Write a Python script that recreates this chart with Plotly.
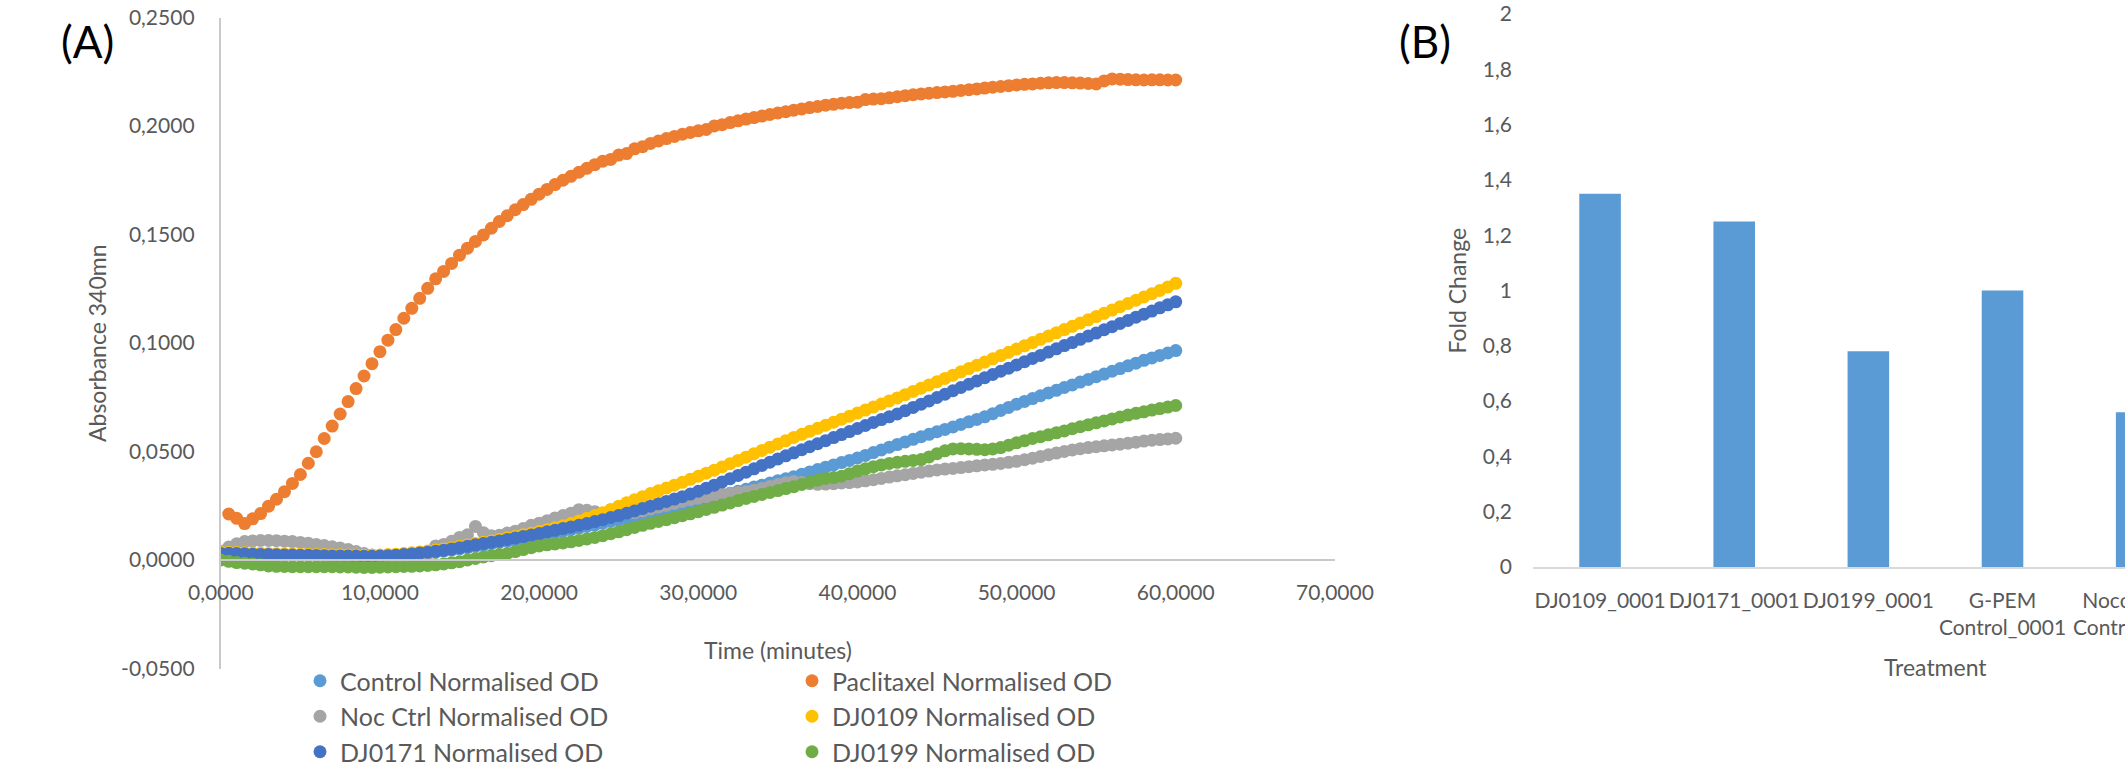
import plotly.graph_objects as go

# ---------------------------------------------------------------- data
# Read times (minutes), one reading every 30 s
TIME_MIN = [
    0.0, 0.5, 1.0, 1.5, 2.0, 2.5, 3.0, 3.5, 4.0, 4.5,
    5.0, 5.5, 6.0, 6.5, 7.0, 7.5, 8.0, 8.5, 9.0, 9.5,
    10.0, 10.5, 11.0, 11.5, 12.0, 12.5, 13.0, 13.5, 14.0, 14.5,
    15.0, 15.5, 16.0, 16.5, 17.0, 17.5, 18.0, 18.5, 19.0, 19.5,
    20.0, 20.5, 21.0, 21.5, 22.0, 22.5, 23.0, 23.5, 24.0, 24.5,
    25.0, 25.5, 26.0, 26.5, 27.0, 27.5, 28.0, 28.5, 29.0, 29.5,
    30.0, 30.5, 31.0, 31.5, 32.0, 32.5, 33.0, 33.5, 34.0, 34.5,
    35.0, 35.5, 36.0, 36.5, 37.0, 37.5, 38.0, 38.5, 39.0, 39.5,
    40.0, 40.5, 41.0, 41.5, 42.0, 42.5, 43.0, 43.5, 44.0, 44.5,
    45.0, 45.5, 46.0, 46.5, 47.0, 47.5, 48.0, 48.5, 49.0, 49.5,
    50.0, 50.5, 51.0, 51.5, 52.0, 52.5, 53.0, 53.5, 54.0, 54.5,
    55.0, 55.5, 56.0, 56.5, 57.0, 57.5, 58.0, 58.5, 59.0, 59.5,
    60.0,
]

CONTROL_OD = [
    0.0027, 0.0028, 0.0027, 0.0026, 0.0024, 0.0023, 0.0022, 0.0021, 0.0020, 0.0020,
    0.0019, 0.0019, 0.0018, 0.0017, 0.0016, 0.0016, 0.0015, 0.0015, 0.0014, 0.0014,
    0.0015, 0.0017, 0.0019, 0.0022, 0.0025, 0.0028, 0.0032, 0.0036, 0.0041, 0.0046,
    0.0051, 0.0057, 0.0063, 0.0069, 0.0075, 0.0081, 0.0087, 0.0093, 0.0099, 0.0105,
    0.0112, 0.0119, 0.0126, 0.0133, 0.0140, 0.0147, 0.0155, 0.0162, 0.0170, 0.0178,
    0.0185, 0.0193, 0.0200, 0.0209, 0.0217, 0.0226, 0.0235, 0.0244, 0.0252, 0.0261,
    0.0270, 0.0280, 0.0289, 0.0298, 0.0308, 0.0317, 0.0326, 0.0336, 0.0345, 0.0355,
    0.0365, 0.0374, 0.0384, 0.0395, 0.0406, 0.0417, 0.0428, 0.0438, 0.0449, 0.0459,
    0.0470, 0.0482, 0.0495, 0.0507, 0.0520, 0.0532, 0.0544, 0.0556, 0.0568, 0.0579,
    0.0591, 0.0602, 0.0613, 0.0625, 0.0637, 0.0648, 0.0660, 0.0674, 0.0689, 0.0703,
    0.0718, 0.0731, 0.0744, 0.0757, 0.0770, 0.0782, 0.0795, 0.0807, 0.0820, 0.0832,
    0.0845, 0.0857, 0.0870, 0.0882, 0.0895, 0.0907, 0.0920, 0.0931, 0.0943, 0.0954,
    0.0965,
]

# first reading of this well falls after t = 0
PACLITAXEL_OD = [
    None, 0.0212, 0.0192, 0.0168, 0.0190, 0.0214, 0.0248, 0.0280, 0.0315, 0.0353,
    0.0394, 0.0446, 0.0499, 0.0560, 0.0617, 0.0673, 0.0730, 0.0790, 0.0848, 0.0905,
    0.0960, 0.1013, 0.1062, 0.1114, 0.1160, 0.1206, 0.1252, 0.1296, 0.1330, 0.1367,
    0.1405, 0.1437, 0.1468, 0.1498, 0.1529, 0.1560, 0.1587, 0.1614, 0.1638, 0.1662,
    0.1686, 0.1708, 0.1730, 0.1750, 0.1768, 0.1787, 0.1805, 0.1822, 0.1838, 0.1846,
    0.1866, 0.1873, 0.1895, 0.1905, 0.1920, 0.1931, 0.1942, 0.1952, 0.1962, 0.1970,
    0.1978, 0.1984, 0.2000, 0.2006, 0.2016, 0.2024, 0.2032, 0.2039, 0.2046, 0.2053,
    0.2060, 0.2066, 0.2073, 0.2079, 0.2085, 0.2090, 0.2096, 0.2100, 0.2105, 0.2108,
    0.2110, 0.2122, 0.2124, 0.2126, 0.2130, 0.2135, 0.2140, 0.2144, 0.2148, 0.2151,
    0.2154, 0.2157, 0.2160, 0.2164, 0.2167, 0.2171, 0.2175, 0.2179, 0.2182, 0.2186,
    0.2189, 0.2192, 0.2194, 0.2197, 0.2199, 0.2200, 0.2200, 0.2199, 0.2198, 0.2196,
    0.2194, 0.2208, 0.2217, 0.2216, 0.2214, 0.2213, 0.2212, 0.2213, 0.2213, 0.2212,
    0.2212,
]

NOC_CTRL_OD = [
    0.0040, 0.0060, 0.0075, 0.0085, 0.0088, 0.0090, 0.0090, 0.0089, 0.0087, 0.0085,
    0.0081, 0.0077, 0.0072, 0.0067, 0.0061, 0.0055, 0.0048, 0.0039, 0.0030, 0.0023,
    0.0019, 0.0017, 0.0016, 0.0017, 0.0018, 0.0021, 0.0026, 0.0065, 0.0072, 0.0086,
    0.0104, 0.0116, 0.0155, 0.0126, 0.0112, 0.0114, 0.0124, 0.0133, 0.0145, 0.0160,
    0.0170, 0.0181, 0.0194, 0.0205, 0.0216, 0.0232, 0.0229, 0.0223, 0.0216, 0.0211,
    0.0212, 0.0214, 0.0218, 0.0226, 0.0235, 0.0244, 0.0252, 0.0261, 0.0270, 0.0278,
    0.0285, 0.0292, 0.0298, 0.0303, 0.0307, 0.0311, 0.0315, 0.0322, 0.0330, 0.0339,
    0.0348, 0.0356, 0.0362, 0.0357, 0.0352, 0.0349, 0.0350, 0.0352, 0.0355, 0.0357,
    0.0360, 0.0365, 0.0370, 0.0376, 0.0382, 0.0388, 0.0393, 0.0399, 0.0405, 0.0410,
    0.0415, 0.0419, 0.0422, 0.0426, 0.0430, 0.0434, 0.0438, 0.0441, 0.0445, 0.0450,
    0.0455, 0.0462, 0.0469, 0.0477, 0.0485, 0.0493, 0.0500, 0.0507, 0.0513, 0.0518,
    0.0522, 0.0526, 0.0530, 0.0534, 0.0538, 0.0543, 0.0548, 0.0552, 0.0555, 0.0558,
    0.0561,
]

DJ0109_OD = [
    0.0036, 0.0036, 0.0035, 0.0034, 0.0032, 0.0031, 0.0030, 0.0029, 0.0028, 0.0028,
    0.0027, 0.0027, 0.0026, 0.0025, 0.0024, 0.0024, 0.0023, 0.0023, 0.0022, 0.0022,
    0.0023, 0.0025, 0.0027, 0.0030, 0.0033, 0.0037, 0.0041, 0.0046, 0.0051, 0.0057,
    0.0063, 0.0069, 0.0076, 0.0082, 0.0088, 0.0095, 0.0102, 0.0108, 0.0116, 0.0123,
    0.0131, 0.0140, 0.0149, 0.0158, 0.0168, 0.0180, 0.0192, 0.0205, 0.0218, 0.0233,
    0.0248, 0.0264, 0.0278, 0.0292, 0.0306, 0.0319, 0.0332, 0.0345, 0.0358, 0.0372,
    0.0386, 0.0400, 0.0414, 0.0429, 0.0444, 0.0459, 0.0474, 0.0490, 0.0505, 0.0520,
    0.0535, 0.0550, 0.0565, 0.0579, 0.0593, 0.0607, 0.0621, 0.0635, 0.0649, 0.0663,
    0.0677, 0.0691, 0.0705, 0.0719, 0.0733, 0.0747, 0.0762, 0.0777, 0.0792, 0.0807,
    0.0822, 0.0837, 0.0852, 0.0867, 0.0882, 0.0897, 0.0912, 0.0927, 0.0942, 0.0957,
    0.0972, 0.0987, 0.1002, 0.1017, 0.1032, 0.1047, 0.1062, 0.1077, 0.1092, 0.1107,
    0.1122, 0.1137, 0.1152, 0.1167, 0.1182, 0.1197, 0.1212, 0.1227, 0.1242, 0.1258,
    0.1275,
]

DJ0171_OD = [
    0.0030, 0.0031, 0.0030, 0.0029, 0.0027, 0.0026, 0.0025, 0.0024, 0.0023, 0.0023,
    0.0022, 0.0022, 0.0021, 0.0020, 0.0019, 0.0019, 0.0018, 0.0018, 0.0017, 0.0017,
    0.0018, 0.0020, 0.0022, 0.0025, 0.0028, 0.0032, 0.0036, 0.0040, 0.0045, 0.0051,
    0.0057, 0.0063, 0.0070, 0.0076, 0.0082, 0.0088, 0.0095, 0.0101, 0.0108, 0.0115,
    0.0122, 0.0130, 0.0137, 0.0145, 0.0152, 0.0160, 0.0168, 0.0177, 0.0186, 0.0196,
    0.0205, 0.0215, 0.0226, 0.0237, 0.0248, 0.0259, 0.0270, 0.0281, 0.0292, 0.0304,
    0.0317, 0.0331, 0.0345, 0.0360, 0.0375, 0.0390, 0.0405, 0.0420, 0.0436, 0.0451,
    0.0466, 0.0480, 0.0494, 0.0508, 0.0522, 0.0536, 0.0550, 0.0564, 0.0578, 0.0592,
    0.0606, 0.0620, 0.0634, 0.0647, 0.0660, 0.0673, 0.0688, 0.0703, 0.0718, 0.0733,
    0.0749, 0.0764, 0.0780, 0.0795, 0.0810, 0.0825, 0.0840, 0.0855, 0.0870, 0.0884,
    0.0899, 0.0914, 0.0929, 0.0943, 0.0958, 0.0973, 0.0988, 0.1002, 0.1017, 0.1032,
    0.1046, 0.1061, 0.1075, 0.1090, 0.1104, 0.1119, 0.1133, 0.1147, 0.1162, 0.1176,
    0.1190,
]

DJ0199_OD = [
    0.0000, -0.0006, -0.0012, -0.0015, -0.0018, -0.0022, -0.0027, -0.0029, -0.0030, -0.0031,
    -0.0031, -0.0031, -0.0031, -0.0031, -0.0031, -0.0032, -0.0032, -0.0033, -0.0034, -0.0034,
    -0.0033, -0.0032, -0.0031, -0.0030, -0.0029, -0.0027, -0.0025, -0.0022, -0.0018, -0.0013,
    -0.0008, 0.0000, 0.0007, 0.0014, 0.0020, 0.0025, 0.0030, 0.0039, 0.0048, 0.0057,
    0.0065, 0.0070, 0.0074, 0.0079, 0.0084, 0.0090, 0.0097, 0.0104, 0.0112, 0.0121,
    0.0130, 0.0140, 0.0150, 0.0160, 0.0169, 0.0178, 0.0186, 0.0195, 0.0204, 0.0213,
    0.0223, 0.0233, 0.0243, 0.0253, 0.0263, 0.0274, 0.0284, 0.0293, 0.0302, 0.0311,
    0.0320, 0.0329, 0.0338, 0.0348, 0.0358, 0.0368, 0.0376, 0.0380, 0.0386, 0.0398,
    0.0410, 0.0420, 0.0430, 0.0438, 0.0445, 0.0450, 0.0455, 0.0459, 0.0463, 0.0475,
    0.0490, 0.0503, 0.0512, 0.0513, 0.0512, 0.0510, 0.0508, 0.0512, 0.0518, 0.0529,
    0.0540, 0.0550, 0.0560, 0.0568, 0.0577, 0.0586, 0.0595, 0.0605, 0.0614, 0.0623,
    0.0632, 0.0641, 0.0650, 0.0659, 0.0668, 0.0676, 0.0683, 0.0691, 0.0698, 0.0705,
    0.0712,
]

TIME_TICKS = [0, 10, 20, 30, 40, 50, 60, 70]
TIME_TICK_LABELS = ["0,0000", "10,0000", "20,0000", "30,0000",
                    "40,0000", "50,0000", "60,0000", "70,0000"]
OD_TICKS = [-0.05, 0.0, 0.05, 0.10, 0.15, 0.20, 0.25]
OD_TICK_LABELS = ["-0,0500", "0,0000", "0,0500", "0,1000",
                  "0,1500", "0,2000", "0,2500"]

TREATMENTS = ["DJ0109_0001", "DJ0171_0001", "DJ0199_0001",
              "G-PEM Control_0001", "Nocodazole Control_0001"]
TREATMENT_LABELS = ["DJ0109_0001", "DJ0171_0001", "DJ0199_0001",
                    "G-PEM<br>Control_0001", "Nocodazole<br>Control_0001"]
FOLD_CHANGE = [1.35, 1.25, 0.78, 1.00, 0.56]
FOLD_TICKS = [0, 0.2, 0.4, 0.6, 0.8, 1.0, 1.2, 1.4, 1.6, 1.8, 2.0]
FOLD_TICK_LABELS = ["0", "0,2", "0,4", "0,6", "0,8", "1",
                    "1,2", "1,4", "1,6", "1,8", "2"]

SERIES = [
    ("Control Normalised OD", CONTROL_OD, "#5B9BD5", "legend"),
    ("Paclitaxel Normalised OD", PACLITAXEL_OD, "#ED7D31", "legend2"),
    ("Noc Ctrl Normalised OD", NOC_CTRL_OD, "#A5A5A5", "legend"),
    ("DJ0109 Normalised OD", DJ0109_OD, "#FFC000", "legend2"),
    ("DJ0171 Normalised OD", DJ0171_OD, "#4472C4", "legend"),
    ("DJ0199 Normalised OD", DJ0199_OD, "#70AD47", "legend2"),
]
for _, values, _, _ in SERIES:
    assert len(values) == len(TIME_MIN)

# ---------------------------------------------------------------- style
W, H = 2125, 775
FONT = "Lato, 'Open Sans', sans-serif"
TEXT = "#595959"
AXIS_LINE = "#C9C9C9"

# panel A geometry (paper fractions)
A_X = [0.1039, 0.6282]
A_Y = [0.1374, 0.9774]
A_RANGE_Y = [-0.05, 0.25]
zero_pos = A_Y[0] + (0 - A_RANGE_Y[0]) / (A_RANGE_Y[1] - A_RANGE_Y[0]) * (A_Y[1] - A_Y[0])

# panel B geometry
B_X = [0.7214, 1.0]
B_Y = [0.2684, 0.9819]
B_RANGE_X = [-0.5, 3.913]


def b_paper_x(pos):
    """Paper x of a category position on the panel B axis."""
    return B_X[0] + (pos - B_RANGE_X[0]) / (B_RANGE_X[1] - B_RANGE_X[0]) * (B_X[1] - B_X[0])


fig = go.Figure()

for name, values, color, legend_id in SERIES:
    fig.add_trace(go.Scatter(
        x=TIME_MIN, y=values, name=name, mode="markers",
        marker=dict(size=13, color=color, line=dict(width=0)),
        legend=legend_id, xaxis="x", yaxis="y",
    ))

fig.add_trace(go.Bar(
    x=TREATMENTS, y=FOLD_CHANGE, width=0.31,
    marker=dict(color="#5B9BD5", line=dict(width=0)),
    showlegend=False, xaxis="x2", yaxis="y2",
))

tick_font = dict(family=FONT, size=21, color=TEXT)
title_font = dict(family=FONT, size=23, color=TEXT)
legend_font = dict(family=FONT, size=25, color=TEXT)

legend_common = dict(
    y=0, xanchor="left", yanchor="bottom",
    orientation="v", font=legend_font, bgcolor="rgba(0,0,0,0)",
    borderwidth=0, tracegroupgap=0,
)

fig.update_layout(
    width=W, height=H,
    margin=dict(l=0, r=0, t=0, b=0, autoexpand=False),
    paper_bgcolor="white", plot_bgcolor="white",
    font=dict(family=FONT, color=TEXT),
    xaxis=dict(
        domain=A_X, range=[0, 70], anchor="free", position=zero_pos,
        tickvals=TIME_TICKS, ticktext=TIME_TICK_LABELS, tickfont=tick_font,
        ticks="", ticklabelstandoff=14, tickangle=0,
        showline=True, linecolor=AXIS_LINE, linewidth=2,
        showgrid=False, zeroline=False,
    ),
    yaxis=dict(
        domain=A_Y, range=A_RANGE_Y, anchor="x",
        tickvals=OD_TICKS, ticktext=OD_TICK_LABELS, tickfont=tick_font,
        ticks="", ticklabelstandoff=20,
        showline=True, linecolor=AXIS_LINE, linewidth=2,
        showgrid=False, zeroline=False,
    ),
    xaxis2=dict(
        domain=B_X, range=B_RANGE_X, type="category", anchor="y2",
        tickvals=TREATMENTS[:4], ticktext=TREATMENT_LABELS[:4], tickfont=tick_font,
        ticks="", ticklabelstandoff=14, tickangle=0,
        showline=True, linecolor="#D9D9D9", linewidth=2,
        showgrid=False, zeroline=False,
    ),
    yaxis2=dict(
        domain=B_Y, range=[0, 2], anchor="x2",
        tickvals=FOLD_TICKS, ticktext=FOLD_TICK_LABELS, tickfont=tick_font,
        ticks="", ticklabelstandoff=20,
        showline=False, showgrid=False, zeroline=False,
    ),
    legend=dict(x=300 / W, **legend_common),
    legend2=dict(x=792 / W, **legend_common),
    showlegend=True,
)

annotations = [
    dict(text="(A)", x=87 / W, y=1 - 41 / H, font=dict(family=FONT, size=44, color="black")),
    dict(text="(B)", x=1425 / W, y=1 - 41 / H, font=dict(family=FONT, size=44, color="black")),
    dict(text="Absorbance 340mn", x=97 / W, y=(A_Y[0] + A_Y[1]) / 2, textangle=-90, font=title_font),
    dict(text="Time (minutes)", x=(A_X[0] + A_X[1]) / 2, y=1 - 650 / H, font=title_font),
    dict(text="Fold Change", x=1457 / W, y=(B_Y[0] + B_Y[1]) / 2, textangle=-90, font=title_font),
    # axis title sits under the middle of the full six-slot category axis
    dict(text="Treatment", x=b_paper_x(2.5), y=1 - 667 / H, font=title_font),
    # last category label runs past the figure edge
    dict(text=TREATMENT_LABELS[4], x=b_paper_x(4), y=1 - 585 / H, yanchor="top",
         font=tick_font),
]
for ann in annotations:
    ann.setdefault("xref", "paper")
    ann.setdefault("yref", "paper")
    ann.setdefault("showarrow", False)
    ann.setdefault("xanchor", "center")
    ann.setdefault("yanchor", "middle")
    fig.add_annotation(**ann)

fig.write_html("out.html")
